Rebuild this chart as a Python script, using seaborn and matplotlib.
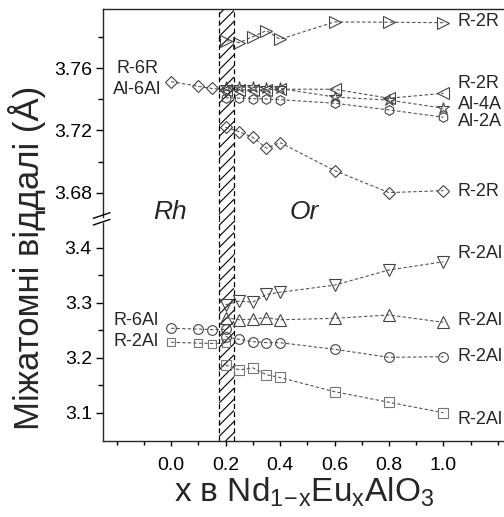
import matplotlib
matplotlib.use("Agg")
import matplotlib.pyplot as plt
from matplotlib.lines import Line2D
from matplotlib.ticker import FixedLocator, FormatStrFormatter
import seaborn as sns

# ---------------- data ----------------
x_rh = [0.0, 0.1, 0.15, 0.2]
x_or = [0.2, 0.25, 0.3, 0.35, 0.4, 0.6, 0.8, 1.0]

# upper panel (Å)
rh_r6r_al6al = [3.7514, 3.7484, 3.7470, 3.7462]
or_r2r_a = [3.7778, 3.7765, 3.7803, 3.7842, 3.7786, 3.7898, 3.7896, 3.7893]
or_r2r_b = [3.7458, 3.7462, 3.7458, 3.7462, 3.7465, 3.7465, 3.7407, 3.7439]
or_al4al = [3.7478, 3.7480, 3.7478, 3.7476, 3.7470, 3.7415, 3.7395, 3.7343]
or_al2al = [3.7410, 3.7408, 3.7405, 3.7402, 3.7398, 3.7375, 3.7332, 3.7285]
or_r2r_c = [3.7221, 3.7192, 3.7156, 3.7086, 3.7122, 3.6942, 3.6800, 3.6813]

# lower panel (Å)
rh_r6al = [3.2535, 3.2520, 3.2512, 3.2515]
rh_r2al = [3.2280, 3.2265, 3.2258, 3.2262]
or_r2al_a = [3.2960, 3.3030, 3.3010, 3.3150, 3.3190, 3.3320, 3.3595, 3.3745]
or_r2al_b = [3.2727, 3.2690, 3.2700, 3.2730, 3.2690, 3.2716, 3.2776, 3.2644]
or_r2al_c = [3.2382, 3.2334, 3.2291, 3.2273, 3.2273, 3.2153, 3.2007, 3.2018]
or_r2al_d = [3.1867, 3.1776, 3.1815, 3.1690, 3.1640, 3.1382, 3.1189, 3.1000]

x_major = [0.0, 0.2, 0.4, 0.6, 0.8, 1.0]
x_minor = [-0.2, -0.1, 0.1, 0.3, 0.5, 0.7, 0.9, 1.1, 1.2]
y_top_major = [3.68, 3.72, 3.76]
y_top_minor = [3.70, 3.74, 3.78]
y_bot_major = [3.1, 3.2, 3.3, 3.4]
y_bot_minor = [3.15, 3.25, 3.35]

# ---------------- style ----------------
sns.set_theme(style="ticks")
plt.rcParams["font.family"] = ["Liberation Sans", "DejaVu Sans"]
plt.rcParams["hatch.linewidth"] = 0.8
plt.rcParams["axes.linewidth"] = 1.0

W, H = 504, 517
fig = plt.figure(figsize=(W / 100, H / 100), dpi=100)
fig.patch.set_facecolor("white")

left_px, right_px = 103, 520
ax_top = fig.add_axes([left_px / W, 1 - 220 / H, (right_px - left_px) / W, 211 / H])
ax_bot = fig.add_axes([left_px / W, 1 - 441 / H, (right_px - left_px) / W, 221 / H])

xlim = (-0.25, 1.281)
for ax in (ax_top, ax_bot):
    ax.set_xlim(*xlim)
    ax.set_facecolor("none")
    ax.spines["right"].set_visible(False)
    ax.axvspan(0.175, 0.23, facecolor="none", edgecolor="black", hatch="///", linewidth=0, zorder=1)
    for xv in (0.175, 0.23):
        ax.axvline(xv, color="black", lw=0.9, ls=(0, (4, 2.5)), zorder=1)

ax_top.set_ylim(3.6624, 3.7981)
ax_bot.set_ylim(3.0485, 3.4504)
ax_top.spines["bottom"].set_visible(False)
ax_bot.spines["top"].set_visible(False)
ax_top.spines["left"].set_bounds(3.6644, 3.7981)
ax_bot.spines["left"].set_bounds(3.0485, 3.4449)

line_c = "#555555"
ls = (0, (3, 2))


def series(ax, xs, ys, marker, ms, mec="#444444"):
    sns.lineplot(x=xs, y=ys, ax=ax, color=line_c, linestyle=ls, linewidth=0.8,
                 marker=marker, markersize=ms, markerfacecolor="none",
                 markeredgecolor=mec, markeredgewidth=0.8, zorder=3)


series(ax_top, x_rh, rh_r6r_al6al, "D", 6)
series(ax_top, x_or, or_r2r_a, ">", 8)
series(ax_top, x_or, or_r2r_b, "<", 8)
series(ax_top, x_or, or_al4al, "*", 9)
series(ax_top, x_or, or_al2al, "h", 7)
series(ax_top, x_or, or_r2r_c, "D", 6.5)

series(ax_bot, x_rh, rh_r6al, "o", 7)
series(ax_bot, x_rh, rh_r2al, "s", 6, mec="#777777")
series(ax_bot, x_or, or_r2al_a, "v", 8.5)
series(ax_bot, x_or, or_r2al_b, "^", 8.5)
series(ax_bot, x_or, or_r2al_c, "o", 7)
series(ax_bot, x_or, or_r2al_d, "s", 6.5, mec="#777777")

# ticks
tick_fs = 14
ax_top.tick_params(axis="x", bottom=False, labelbottom=False, top=False)
ax_top.yaxis.set_major_locator(FixedLocator(y_top_major))
ax_top.yaxis.set_minor_locator(FixedLocator(y_top_minor))
ax_top.yaxis.set_major_formatter(FormatStrFormatter("%.2f"))
ax_bot.yaxis.set_major_locator(FixedLocator(y_bot_major))
ax_bot.yaxis.set_minor_locator(FixedLocator(y_bot_minor))
ax_bot.yaxis.set_major_formatter(FormatStrFormatter("%.1f"))
ax_bot.xaxis.set_major_locator(FixedLocator(x_major))
ax_bot.xaxis.set_minor_locator(FixedLocator(x_minor))
ax_bot.xaxis.set_major_formatter(FormatStrFormatter("%.1f"))
for ax in (ax_top, ax_bot):
    ax.tick_params(axis="y", which="major", direction="out", length=5, width=1,
                   labelsize=tick_fs, pad=3, colors="black")
    ax.tick_params(axis="y", which="minor", direction="out", length=3.5, width=1, colors="black")
ax_bot.tick_params(axis="x", which="major", direction="out", length=3.5, width=1,
                   labelsize=tick_fs, pad=8, colors="black")
ax_bot.tick_params(axis="x", which="minor", direction="out", length=3, width=1, colors="black")

# break marks
for dy in (0, 6.7):
    fig.add_artist(Line2D([93.3 / W, 110 / W], [1 - (218.3 + dy) / H, 1 - (212.7 + dy) / H],
                          color="black", lw=1.0))

# annotations
ann_fs = 13
xr = 1.053
for y, t in [(3.7900, "R-2R"), (3.7505, "R-2R"), (3.7370, "Al-4A"), (3.7255, "Al-2A"), (3.6806, "R-2R")]:
    ax_top.text(xr, y, t, fontsize=ann_fs, va="center", ha="left", clip_on=False)
for y, t in [(3.3900, "R-2Al"), (3.2673, "R-2Al"), (3.2013, "R-2Al"), (3.0867, "R-2Al")]:
    ax_bot.text(xr, y, t, fontsize=ann_fs, va="center", ha="left", clip_on=False)

ax_top.text(-0.125, 3.7600, "R-6R", fontsize=ann_fs, va="center", ha="center")
ax_top.text(-0.125, 3.7465, "Al-6Al", fontsize=ann_fs, va="center", ha="center")
ax_bot.text(-0.13, 3.2685, "R-6Al", fontsize=ann_fs, va="center", ha="center")
ax_bot.text(-0.13, 3.2290, "R-2Al", fontsize=ann_fs, va="center", ha="center")

ax_top.text(-0.003, 3.6628, "Rh", fontsize=19, style="italic", va="baseline", ha="center")
ax_top.text(0.49, 3.6628, "Or", fontsize=19, style="italic", va="baseline", ha="center")

fig.text(27 / W, 1 - 258 / H, "Міжатомні віддалі (Å)", rotation=90, fontsize=25,
         va="center", ha="center")
fig.text(304 / W, 1 - 492 / H,
         r"x в Nd$_{\mathregular{1\!-\!x}}$Eu$_{\mathregular{x}}$AlO$_{\mathregular{3}}$",
         fontsize=24, va="center", ha="center")

fig.savefig("out.png", dpi=100, facecolor="white")
